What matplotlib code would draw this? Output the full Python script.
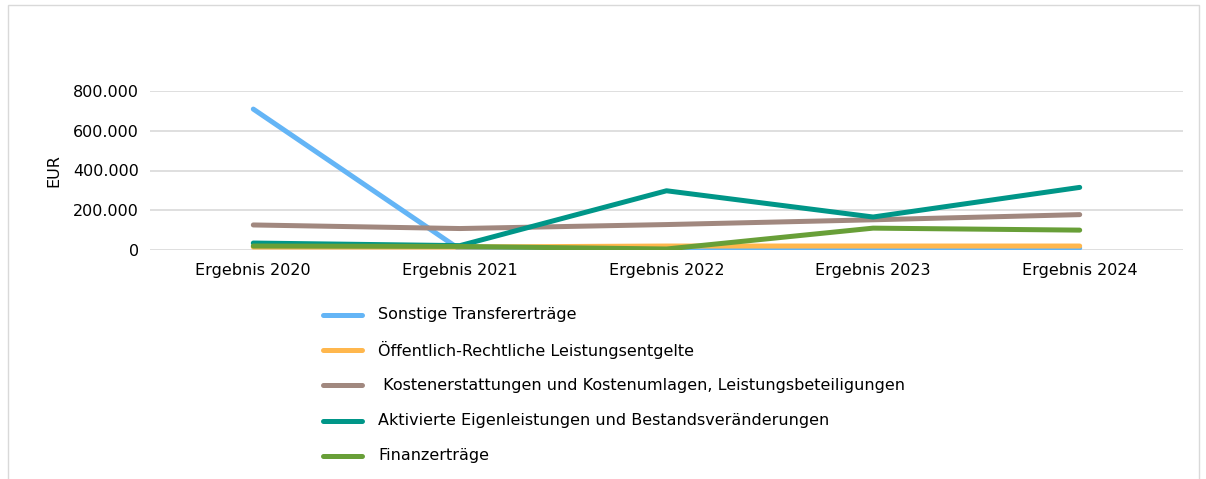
import matplotlib
matplotlib.use('Agg')
import matplotlib.pyplot as plt
from matplotlib.ticker import FuncFormatter
from matplotlib.patches import Rectangle
from matplotlib.lines import Line2D

plt.rcParams['font.family'] = ['DejaVu Sans']

categories = ['Ergebnis 2020', 'Ergebnis 2021', 'Ergebnis 2022', 'Ergebnis 2023', 'Ergebnis 2024']
series_names = ['Sonstige Transfererträge',
                'Öffentlich-Rechtliche Leistungsentgelte',
                ' Kostenerstattungen und Kostenumlagen, Leistungsbeteiligungen',
                'Aktivierte Eigenleistungen und Bestandsveränderungen',
                'Finanzerträge']
sonstige = [709000, 3000, 2000, 10000, 10000]
oeffentlich = [15000, 15000, 20000, 20000, 20000]
kosten = [126000, 108000, 128000, 152000, 178000]
aktivierte = [35000, 22000, 298000, 166000, 315000]
finanz = [20000, 18000, 5000, 110000, 100000]
colors = ['#64B5F6', '#FFB74D', '#A1887F', '#009688', '#689F38']

fs = 11.5
W, H = 1206, 479
fig = plt.figure(figsize=(W / 100, H / 100), dpi=100)
fig.patches.append(Rectangle((8 / W, -0.1), 1191 / W, 1.1 - 5 / H, transform=fig.transFigure,
                             fill=False, edgecolor='#d9d9d9', lw=1))

ax = fig.add_axes([150 / W, 1 - 250 / H, 1033 / W, 159 / H])
x = [i + 0.5 for i in range(len(categories))]
all_vals = [sonstige, oeffentlich, kosten, aktivierte, finanz]
for name, vals, c in zip(series_names, all_vals, colors):
    ax.plot(x, vals, color=c, lw=3.6, solid_capstyle='round', solid_joinstyle='round', label=name)

ax.set_xlim(0, 5)
ax.set_ylim(0, 800000)
ax.set_yticks(range(0, 800001, 200000))
ax.yaxis.set_major_formatter(FuncFormatter(lambda v, p: f'{int(v):,}'.replace(',', '.')))
ax.set_xticks(x)
ax.set_xticklabels(categories)
ax.grid(axis='y', color='#d9d9d9', lw=1.2)
ax.set_axisbelow(True)
for s in ax.spines.values():
    s.set_visible(False)
ax.tick_params(length=0, labelsize=fs, colors='#000000', pad=9)
ax.tick_params(axis='y', pad=8)
ax.set_ylabel('EUR', fontsize=fs, labelpad=8)

# legend drawn below the plot, one entry per row
for i, (name, c) in enumerate(zip(series_names, colors)):
    yy = 1 - (315 + i * 35.2) / H
    fig.add_artist(Line2D([323 / W, 362 / W], [yy, yy], transform=fig.transFigure,
                          color=c, lw=3.6, solid_capstyle='round'))
    fig.text(378 / W, yy, name, fontsize=fs, va='center', ha='left')

fig.savefig('out.png', dpi=100)
